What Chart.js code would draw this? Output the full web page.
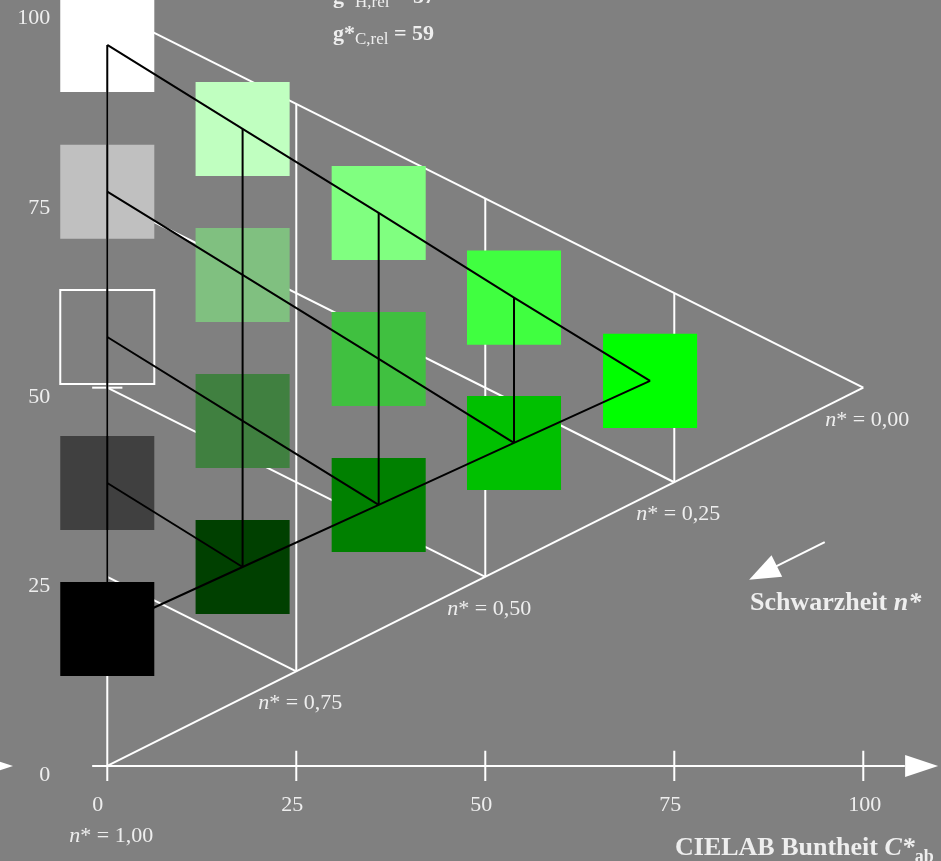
<!DOCTYPE html>
<html>
<head>
<meta charset="utf-8">
<script src="https://cdn.jsdelivr.net/npm/chart.js@4.4.0/dist/chart.umd.min.js"></script>
<style>
html, body { margin: 0; padding: 0; background: #808080; }
#wrap { width: 941px; height: 861px; }
</style>
</head>
<body>
<div id="wrap"><canvas id="chart" width="941" height="861"></canvas></div>
<script>
// Axis ticks
const chromaTicks = [0, 25, 50, 75, 100];
const lightTicks = [0, 25, 50, 75, 100];
const lightTickMarks = [50];
const blacknessLevels = [0, 0.25, 0.5, 0.75, 1];

// Colour patches: one array per column (chroma), rows top to bottom
const chroma = [0, 17.9, 35.9, 53.8, 71.8];
const lightness = [
    [95.3, 75.9, 56.7, 37.4, 18.1],
    [84.2, 64.9, 45.6, 26.3],
    [73.1, 53.8, 34.5],
    [61.9, 42.7],
    [50.9]
];
const patchColors = [
    ['#ffffff', '#c0c0c0', '#808080', '#404040', '#000000'],
    ['#c0ffc0', '#80c080', '#408040', '#004000'],
    ['#80ff80', '#40c040', '#008000'],
    ['#40ff40', '#00c000'],
    ['#00ff00']
];
const outlinedPatch = [0, 2];

// Blackness direction arrow (start, tip)
const blackArrow = [[94.9, 29.6], [84.9, 24.6]];

const bg = '#808080';
const textColor = '#eeeeee';
const serif = '"Liberation Serif", "Times New Roman", serif';

function segment(points, color, order) {
    return {
        type: 'scatter',
        data: points.map(p => ({ x: p[0], y: p[1] })),
        showLine: true,
        borderColor: color,
        borderWidth: 2,
        pointRadius: 0,
        tension: 0,
        order: order
    };
}

// White grid: triangle, constant n* lines, vertical chroma lines, axis
function whiteLines() {
    const sets = [];
    sets.push(segment([[0, 0], [0, 100]], '#ffffff', 3));
    sets.push(segment([[0, 100], [100, 50]], '#ffffff', 3));
    sets.push(segment([[0, 0], [100, 50]], '#ffffff', 3));
    blacknessLevels.filter(n => n > 0 && n < 1).forEach(n => {
        const c = 100 * (1 - n);
        sets.push(segment([[0, c], [c, c / 2]], '#ffffff', 3));
        sets.push(segment([[c, c / 2], [c, 100 - c / 2]], '#ffffff', 3));
    });
    sets.push(segment([[-2, 0], [105.5, 0]], '#ffffff', 3));
    chromaTicks.forEach(v => {
        sets.push(segment([[v, v === 0 ? 0 : 2], [v, -2]], '#ffffff', 3));
    });
    lightTickMarks.forEach(v => {
        sets.push(segment([[-2, v], [2, v]], '#ffffff', 3));
    });
    return sets;
}

// Black connecting lines between patch centres
function blackLines() {
    const sets = [];
    lightness.forEach((col, j) => {
        if (col.length > 1) {
            sets.push(segment(col.map(l => [chroma[j], l]), '#000000', 1));
        }
    });
    for (let k = 0; k < lightness[0].length - 1; k++) {
        const pts = [];
        for (let j = 0; j < lightness.length - k; j++) pts.push([chroma[j], lightness[j][k]]);
        sets.push(segment(pts, '#000000', 1));
    }
    const bottom = lightness.map((col, j) => [chroma[j], col[col.length - 1]]);
    sets.push(segment(bottom, '#000000', 1));
    return sets;
}

function patches() {
    const pts = [], fills = [], borders = [], widths = [];
    lightness.forEach((col, j) => {
        col.forEach((l, k) => {
            const outlined = outlinedPatch[0] === j && outlinedPatch[1] === k;
            pts.push({ x: chroma[j], y: l });
            fills.push(patchColors[j][k]);
            borders.push(outlined ? '#ffffff' : patchColors[j][k]);
            widths.push(outlined ? 2 : 0);
        });
    });
    return {
        type: 'scatter',
        data: pts,
        pointStyle: 'rect',
        pointRadius: 66.5,
        pointBackgroundColor: fills,
        pointBorderColor: borders,
        pointBorderWidth: widths,
        order: 2
    };
}

function drawRuns(ctx, x, y, runs) {
    ctx.textAlign = 'left';
    ctx.textBaseline = 'alphabetic';
    runs.forEach(r => {
        ctx.font = r.font;
        ctx.fillText(r.text, x, y + (r.dy || 0));
        x += ctx.measureText(r.text).width;
    });
}

function arrowHead(ctx, tip, from, len, half) {
    const dx = tip[0] - from[0], dy = tip[1] - from[1];
    const d = Math.hypot(dx, dy);
    const ux = dx / d, uy = dy / d;
    const bx = tip[0] - ux * len, by = tip[1] - uy * len;
    ctx.beginPath();
    ctx.moveTo(tip[0], tip[1]);
    ctx.lineTo(bx - uy * half, by + ux * half);
    ctx.lineTo(bx + uy * half, by - ux * half);
    ctx.closePath();
    ctx.fill();
}

const decorations = {
    id: 'decorations',
    beforeDraw(chart) {
        const ctx = chart.ctx;
        ctx.save();
        ctx.fillStyle = bg;
        ctx.fillRect(0, 0, chart.width, chart.height);
        ctx.restore();
    },
    afterDatasetsDraw(chart) {
        const ctx = chart.ctx;
        const xs = chart.scales.x, ys = chart.scales.y;
        const px = v => xs.getPixelForValue(v);
        const py = v => ys.getPixelForValue(v);
        ctx.save();
        ctx.fillStyle = '#ffffff';
        ctx.strokeStyle = '#ffffff';

        // axis arrows
        arrowHead(ctx, [px(109.9), py(0)], [px(0), py(0)], 33, 11);
        arrowHead(ctx, [px(-12.47), py(0)], [px(-20), py(0)], 33, 11);

        // blackness arrow
        const a0 = [px(blackArrow[0][0]), py(blackArrow[0][1])];
        const a1 = [px(blackArrow[1][0]), py(blackArrow[1][1])];
        const d = Math.hypot(a1[0] - a0[0], a1[1] - a0[1]);
        ctx.lineWidth = 2;
        ctx.beginPath();
        ctx.moveTo(a0[0], a0[1]);
        ctx.lineTo(a1[0] - (a1[0] - a0[0]) / d * 20, a1[1] - (a1[1] - a0[1]) / d * 20);
        ctx.stroke();
        arrowHead(ctx, a1, a0, 31, 12);

        ctx.fillStyle = textColor;
        // tick labels
        ctx.font = '22px ' + serif;
        chromaTicks.forEach(v => {
            ctx.textAlign = 'left';
            ctx.textBaseline = 'alphabetic';
            ctx.fillText(String(v), px(v) - 15, py(0) + 45);
        });
        lightTicks.forEach(v => {
            ctx.textAlign = 'right';
            ctx.textBaseline = 'alphabetic';
            ctx.fillText(String(v), px(0) - 57, py(v) + 15);
        });

        // n* labels
        blacknessLevels.forEach(n => {
            const c = 100 * (1 - n);
            const label = n.toFixed(2).replace('.', ',');
            const dy = n === 1 ? 76 : 38;
            drawRuns(ctx, px(c) - 38, py(c / 2) + dy, [
                { text: 'n', font: 'italic 22px ' + serif },
                { text: '* = ' + label, font: '22px ' + serif }
            ]);
        });

        // titles
        drawRuns(ctx, 333, 3, [
            { text: 'g*', font: 'bold 22px ' + serif },
            { text: 'H,rel', font: '17px ' + serif, dy: 4 },
            { text: ' = 57', font: 'bold 22px ' + serif }
        ]);
        drawRuns(ctx, 333, 40, [
            { text: 'g*', font: 'bold 22px ' + serif },
            { text: 'C,rel', font: '17px ' + serif, dy: 4 },
            { text: ' = 59', font: 'bold 22px ' + serif }
        ]);
        drawRuns(ctx, 750, 610, [
            { text: 'Schwarzheit ', font: 'bold 26px ' + serif },
            { text: 'n*', font: 'italic bold 26px ' + serif }
        ]);
        drawRuns(ctx, 675, 855, [
            { text: 'CIELAB Buntheit ', font: 'bold 26px ' + serif },
            { text: 'C*', font: 'italic bold 26px ' + serif },
            { text: 'ab', font: 'bold 18px ' + serif, dy: 7 }
        ]);
        ctx.restore();
    }
};

new Chart(document.getElementById('chart'), {
    type: 'scatter',
    data: {
        datasets: [...blackLines(), patches(), ...whiteLines()]
    },
    options: {
        responsive: false,
        animation: false,
        events: [],
        layout: { padding: 0, autoPadding: false },
        plugins: {
            legend: { display: false },
            tooltip: { enabled: false }
        },
        scales: {
            x: { type: 'linear', min: -14.19, max: 110.28, display: false },
            y: { type: 'linear', min: -12.56, max: 101.24, display: false }
        }
    },
    plugins: [decorations]
});
</script>
</body>
</html>
